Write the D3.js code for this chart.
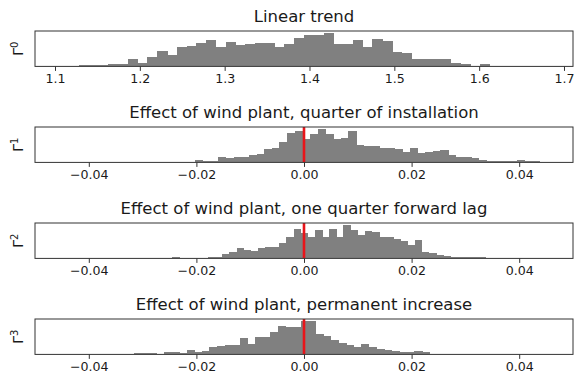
<!DOCTYPE html>
<html>
<head>
<meta charset="utf-8">
<script src="https://cdn.jsdelivr.net/npm/d3@7"></script>
<style>
  html, body { margin: 0; padding: 0; background: #fff; }
  svg { display: block; font-family: "DejaVu Sans", sans-serif; }
</style>
</head>
<body>
<svg id="chart" width="574" height="382"></svg>
<script>
// Posterior draws for each coefficient, summarised as 50-bin histograms.
const titles = [
  "Linear trend",
  "Effect of wind plant, quarter of installation",
  "Effect of wind plant, one quarter forward lag",
  "Effect of wind plant, permanent increase"
];
const coefIndex = ["0", "1", "2", "3"];

// [min, max] of the draws; the 50 bins span this range evenly
const trendRange = [1.10525, 1.68179];
const quarterRange = [-0.02734, 0.04386];
const lagRange = [-0.02445, 0.04175];
const permanentRange = [-0.03169, 0.03888];

const trendCounts = [0, 1, 4, 4, 5, 7, 8, 22, 9, 30, 47, 35, 59, 64, 72, 81, 60, 76, 66, 69,
  72, 72, 59, 68, 89, 97, 97, 104, 69, 69, 80, 60, 85, 77, 44, 40, 22, 22, 22, 22,
  11, 6, 2, 7, 1, 0, 0, 0, 0, 1];
const quarterCounts = [2, 2, 2, 2, 2, 6, 3, 5, 16, 15, 16, 18, 24, 25, 42, 44, 63, 93, 100, 75,
  88, 106, 88, 73, 78, 100, 56, 51, 53, 46, 46, 41, 33, 46, 31, 33, 36, 38, 23, 18,
  18, 13, 7, 5, 5, 4, 3, 7, 3, 5];
const lagCounts = [4, 2, 0, 1, 2, 3, 4, 12, 20, 30, 24, 22, 30, 33, 33, 45, 63, 85, 75, 63,
  84, 63, 87, 63, 99, 84, 69, 80, 78, 63, 63, 57, 50, 39, 54, 20, 15, 10, 7, 5,
  5, 4, 4, 3, 0, 0, 0, 0, 0, 1];
const permanentCounts = [3, 3, 3, 2, 9, 9, 4, 14, 7, 10, 24, 26, 29, 29, 51, 34, 54, 54, 69, 89,
  86, 85, 106, 106, 64, 59, 44, 37, 31, 24, 34, 24, 17, 14, 11, 9, 7, 10, 6, 0,
  0, 0, 0, 0, 0, 0, 0, 0, 0, 1];

const trendTicks = [1.1, 1.2, 1.3, 1.4, 1.5, 1.6, 1.7];
const effectTicks = [-0.04, -0.02, 0.00, 0.02, 0.04];
const effectLimits = [-0.05, 0.05];
const zeroLine = 0;

const panels = [
  { counts: trendCounts, range: trendRange, ticks: trendTicks, fmt: d3.format(".1f"), limits: null, marker: false },
  { counts: quarterCounts, range: quarterRange, ticks: effectTicks, fmt: d3.format(".2f"), limits: effectLimits, marker: true },
  { counts: lagCounts, range: lagRange, ticks: effectTicks, fmt: d3.format(".2f"), limits: effectLimits, marker: true },
  { counts: permanentCounts, range: permanentRange, ticks: effectTicks, fmt: d3.format(".2f"), limits: effectLimits, marker: true }
];

const svg = d3.select("#chart");
const left = 35, right = 573, axH = 35.4, firstTop = 31, step = 96;

panels.forEach((p, i) => {
  const top = firstTop + step * i;
  const bottom = top + axH;
  const nb = p.counts.length;
  const bw = (p.range[1] - p.range[0]) / nb;
  const pad = (p.range[1] - p.range[0]) * 0.05;
  const dom = p.limits || [p.range[0] - pad, p.range[1] + pad];

  const x = d3.scaleLinear().domain(dom).range([left, right]);
  const y = d3.scaleLinear().domain([0, d3.max(p.counts) * 1.05]).range([bottom, top]);

  const g = svg.append("g");
  const clipId = "clip" + i;
  g.append("clipPath").attr("id", clipId)
    .append("rect").attr("x", left).attr("y", top).attr("width", right - left).attr("height", axH);

  const plot = g.append("g").attr("clip-path", `url(#${clipId})`);
  plot.selectAll("rect.bar")
    .data(p.counts)
    .join("rect")
    .attr("class", "bar")
    .attr("x", (d, k) => x(p.range[0] + k * bw))
    .attr("width", (d, k) => x(p.range[0] + (k + 1) * bw) - x(p.range[0] + k * bw) + 0.5)
    .attr("y", d => y(d))
    .attr("height", d => bottom - y(d))
    .attr("shape-rendering", "crispEdges")
    .attr("fill", "#808080");

  if (p.marker) {
    plot.append("line")
      .attr("x1", x(zeroLine)).attr("x2", x(zeroLine))
      .attr("y1", top).attr("y2", bottom)
      .attr("stroke", "#e8141a").attr("stroke-width", 2.6);
  }

  // bottom axis
  const axis = d3.axisBottom(x).tickValues(p.ticks)
    .tickFormat(v => p.fmt(v).replace("-", "\u2212"))
    .tickSize(4.5).tickPadding(3.5);
  const ax = g.append("g").attr("transform", `translate(0,${bottom})`).call(axis);
  ax.select(".domain").remove();
  ax.selectAll(".tick line").attr("stroke", "#333").attr("stroke-width", 1);
  ax.selectAll(".tick text")
    .attr("font-family", "DejaVu Sans")
    .attr("font-size", 12.6)
    .attr("fill", "#1a1a1a");

  // frame
  g.append("rect")
    .attr("x", left).attr("y", top)
    .attr("width", right - left).attr("height", axH)
    .attr("fill", "none").attr("stroke", "#333").attr("stroke-width", 1);

  // title
  g.append("text")
    .attr("x", (left + right) / 2).attr("y", top - 9)
    .attr("text-anchor", "middle")
    .attr("font-size", 16.5)
    .attr("fill", "#1a1a1a")
    .text(titles[i]);

  // y label: Γ with superscript index
  const lab = g.append("text")
    .attr("transform", `translate(23,${top + axH / 2}) rotate(-90)`)
    .attr("text-anchor", "middle")
    .attr("font-size", 14)
    .attr("fill", "#1a1a1a");
  lab.append("tspan").text("\u0393");
  lab.append("tspan").attr("dy", -5).attr("font-size", 10).text(coefIndex[i]);
});
</script>
</body>
</html>
